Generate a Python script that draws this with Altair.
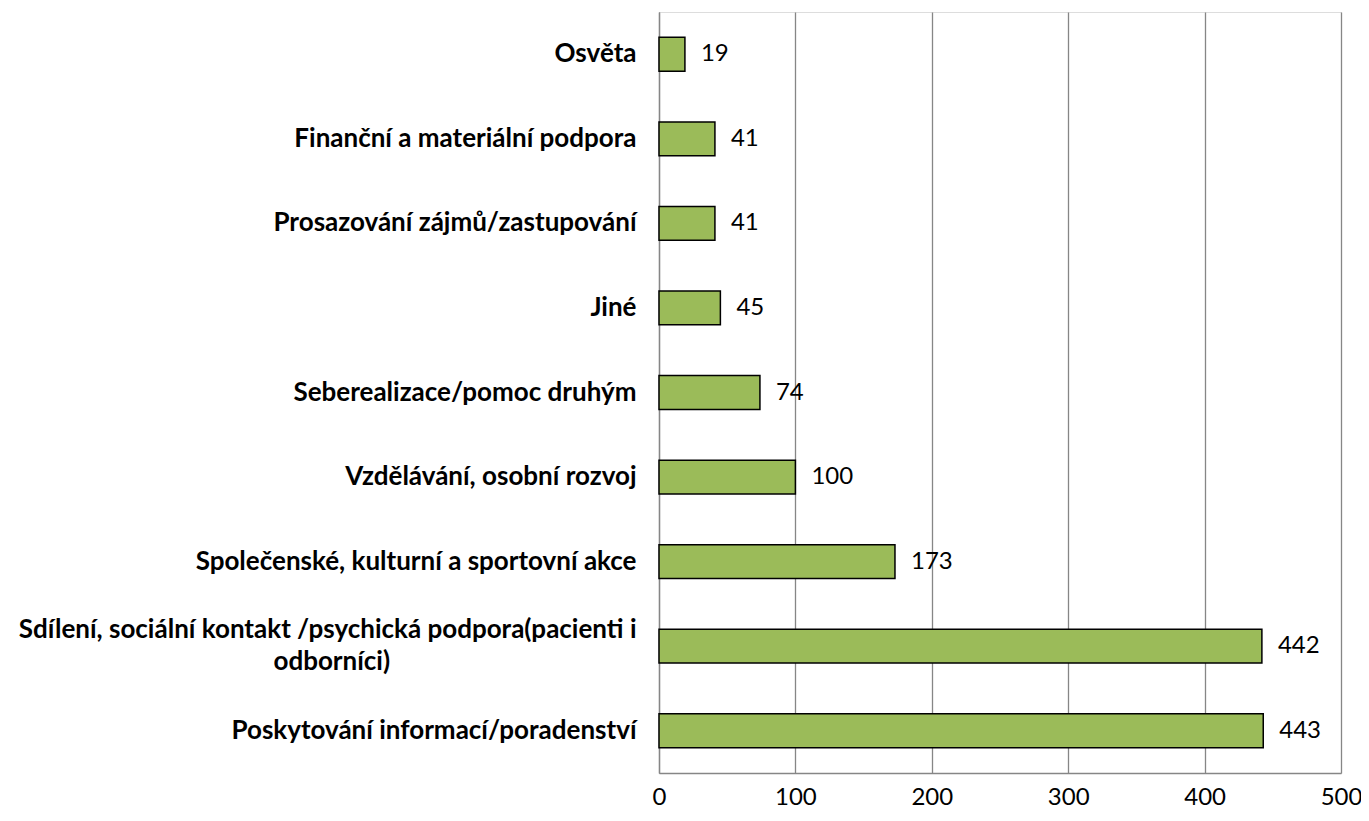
import altair as alt
import pandas as pd

PAD = "\u00a0" * 39 + "\u2060"
categories = [
    "Osvěta",
    "Finanční a materiální podpora",
    "Prosazování zájmů/zastupování",
    "Jiné",
    "Seberealizace/pomoc druhým",
    "Vzdělávání, osobní rozvoj",
    "Společenské, kulturní a sportovní akce",
    "Sdílení, sociální kontakt /psychická podpora(pacienti i|odborníci)" + PAD,
    "Poskytování informací/poradenství",
]
values = [19, 41, 41, 45, 74, 100, 173, 442, 443]
x_ticks = [0, 100, 200, 300, 400, 500]

df = pd.DataFrame({"cat": categories, "val": values})

FONT = "Lato"
GRID = "#868686"

y_enc = alt.Y(
    "cat:N",
    sort=categories,
    scale=alt.Scale(paddingInner=0.6, paddingOuter=0.3),
    axis=alt.Axis(
        title=None,
        ticks=False,
        domain=True,
        domainColor=GRID,
        domainWidth=1.3,
        labelFont=FONT,
        labelFontSize=26,
        labelFontWeight="bold",
        labelColor="black",
        labelPadding=23,
        labelLimit=0,
        labelLineHeight=32,
        labelAlign="right",
        labelBaseline="middle",
        labelExpr="split(datum.label, '|')",
        labelOffset=alt.condition(
            "indexof(datum.label, '|') >= 0", alt.value(-16), alt.value(0)
        ),
        grid=False,
    ),
)

x_enc = alt.X(
    "val:Q",
    scale=alt.Scale(domain=[0, 500], nice=False),
    axis=alt.Axis(
        title=None,
        values=x_ticks,
        ticks=False,
        grid=True,
        gridColor=GRID,
        gridWidth=1.3,
        domain=True,
        domainColor=GRID,
        domainWidth=1.3,
        labelFont=FONT,
        labelFontSize=24,
        labelColor="black",
        labelPadding=12,
        labelFlush=False,
    ),
)

bars = alt.Chart(df).mark_bar(
    color="#9BBB59", stroke="black", strokeWidth=1.5
).encode(x=x_enc, y=y_enc)

labels = alt.Chart(df).mark_text(
    align="left", baseline="middle", dx=16, font=FONT, fontSize=24, color="black"
).encode(x="val:Q", y=alt.Y("cat:N", sort=categories), text="val:Q")

chart = (
    alt.layer(bars, labels)
    .properties(
        width=682,
        height=761,
        autosize=alt.AutoSizeParams(type="none"),
        padding={"left": 651, "top": 4, "right": 20, "bottom": 40},
    )
    .configure_view(stroke=None)
    .configure(background="white")
)

chart.save("out.html", embed_options={"renderer": "svg", "actions": False})
